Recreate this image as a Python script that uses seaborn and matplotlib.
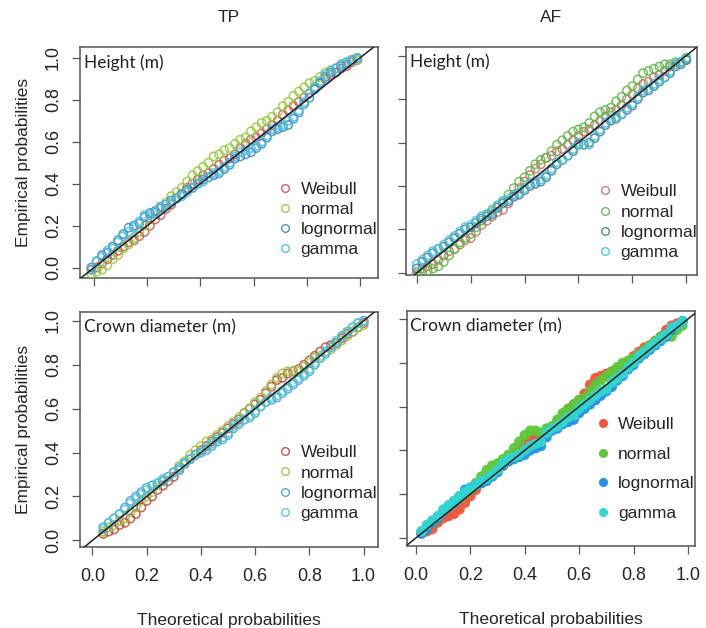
import matplotlib
matplotlib.use("Agg")
import matplotlib.pyplot as plt
from matplotlib.lines import Line2D
import numpy as np
import pandas as pd
import seaborn as sns

sns.set_style("ticks")
plt.rcParams['font.family'] = ['Liberation Sans', 'DejaVu Sans']

dists = ['Weibull', 'normal', 'lognormal', 'gamma']

# TP - Height (m): theoretical probabilities (x) and empirical probabilities for each fit
tp_height_x = [-0.01, 0.01, 0.03, 0.05, 0.07, 0.09, 0.11, 0.13, 0.15, 0.17, 0.19, 0.21, 0.23,
               0.25, 0.27, 0.29, 0.31, 0.33, 0.35, 0.37, 0.39, 0.41, 0.43, 0.45, 0.47, 0.49,
               0.51, 0.53, 0.55, 0.57, 0.59, 0.61, 0.63, 0.65, 0.67, 0.69, 0.71, 0.73, 0.75,
               0.77, 0.79, 0.81, 0.83, 0.85, 0.87, 0.89, 0.91, 0.93, 0.95, 0.97, 0.99]
tp_height_weibull = [-0.01, 0.00, 0.02, 0.04, 0.06, 0.08, 0.10, 0.12, 0.13, 0.15, 0.17, 0.20, 0.23,
                     0.25, 0.28, 0.30, 0.33, 0.35, 0.38, 0.40, 0.42, 0.44, 0.45, 0.47, 0.49, 0.51,
                     0.52, 0.54, 0.57, 0.59, 0.61, 0.62, 0.64, 0.66, 0.68, 0.70, 0.73, 0.75, 0.77,
                     0.79, 0.81, 0.83, 0.86, 0.88, 0.90, 0.92, 0.93, 0.95, 0.96, 0.98, 0.99]
tp_height_normal = [-0.03, -0.02, -0.01, 0.01, 0.04, 0.06, 0.09, 0.11, 0.14, 0.17, 0.20, 0.23, 0.26,
                    0.28, 0.31, 0.34, 0.36, 0.38, 0.41, 0.44, 0.46, 0.48, 0.50, 0.53, 0.54, 0.56,
                    0.57, 0.59, 0.61, 0.62, 0.65, 0.67, 0.69, 0.70, 0.72, 0.74, 0.77, 0.79, 0.82,
                    0.84, 0.86, 0.88, 0.89, 0.91, 0.93, 0.94, 0.95, 0.97, 0.98, 0.99, 0.99]
tp_height_lognormal = [0.00, 0.03, 0.06, 0.07, 0.10, 0.13, 0.16, 0.19, 0.20, 0.21, 0.24, 0.26, 0.27,
                       0.29, 0.30, 0.32, 0.33, 0.35, 0.37, 0.38, 0.40, 0.42, 0.43, 0.44, 0.45, 0.47,
                       0.49, 0.52, 0.53, 0.54, 0.55, 0.57, 0.59, 0.62, 0.65, 0.66, 0.67, 0.68, 0.71,
                       0.74, 0.78, 0.81, 0.85, 0.88, 0.91, 0.93, 0.95, 0.96, 0.97, 0.99, 1.00]
tp_height_gamma = [-0.01, 0.03, 0.05, 0.08, 0.09, 0.12, 0.15, 0.17, 0.19, 0.22, 0.25, 0.25, 0.26,
                   0.28, 0.30, 0.31, 0.33, 0.34, 0.36, 0.38, 0.40, 0.41, 0.43, 0.45, 0.46, 0.48,
                   0.50, 0.53, 0.55, 0.56, 0.57, 0.58, 0.60, 0.63, 0.66, 0.67, 0.68, 0.70, 0.72,
                   0.75, 0.79, 0.83, 0.86, 0.89, 0.92, 0.94, 0.95, 0.97, 0.98, 0.99, 1.00]

# AF - Height (m)
af_height_x = [0.00, 0.02, 0.04, 0.06, 0.08, 0.10, 0.12, 0.14, 0.16, 0.18, 0.20, 0.22, 0.24,
               0.26, 0.28, 0.30, 0.32, 0.34, 0.36, 0.38, 0.40, 0.42, 0.44, 0.46, 0.48, 0.50,
               0.52, 0.54, 0.56, 0.58, 0.60, 0.62, 0.64, 0.66, 0.68, 0.70, 0.72, 0.74, 0.76,
               0.78, 0.80, 0.82, 0.84, 0.86, 0.88, 0.90, 0.92, 0.94, 0.96, 0.98, 1.00]
af_height_weibull = [0.00, 0.02, 0.03, 0.04, 0.06, 0.08, 0.10, 0.11, 0.13, 0.15, 0.16, 0.19, 0.22,
                     0.24, 0.26, 0.28, 0.29, 0.32, 0.36, 0.39, 0.42, 0.45, 0.48, 0.50, 0.53, 0.54,
                     0.56, 0.57, 0.59, 0.61, 0.63, 0.65, 0.66, 0.68, 0.70, 0.72, 0.74, 0.75, 0.77,
                     0.80, 0.82, 0.85, 0.87, 0.88, 0.90, 0.91, 0.93, 0.95, 0.96, 0.97, 0.99]
af_height_normal = [-0.01, 0.00, 0.01, 0.02, 0.03, 0.05, 0.08, 0.11, 0.14, 0.16, 0.18, 0.21, 0.24,
                    0.27, 0.29, 0.31, 0.33, 0.36, 0.39, 0.42, 0.44, 0.47, 0.50, 0.52, 0.53, 0.56,
                    0.59, 0.61, 0.63, 0.65, 0.66, 0.67, 0.69, 0.72, 0.74, 0.75, 0.76, 0.79, 0.81,
                    0.84, 0.86, 0.89, 0.92, 0.93, 0.94, 0.95, 0.96, 0.96, 0.97, 0.97, 0.98]
af_height_lognormal = [0.02, 0.05, 0.07, 0.09, 0.11, 0.12, 0.14, 0.16, 0.18, 0.20, 0.21, 0.23, 0.25,
                       0.26, 0.27, 0.30, 0.32, 0.33, 0.35, 0.36, 0.38, 0.40, 0.41, 0.42, 0.44, 0.47,
                       0.50, 0.52, 0.54, 0.56, 0.59, 0.59, 0.60, 0.62, 0.65, 0.68, 0.70, 0.71, 0.73,
                       0.75, 0.77, 0.80, 0.83, 0.84, 0.86, 0.88, 0.90, 0.92, 0.95, 0.96, 0.98]
af_height_gamma = [0.04, 0.06, 0.08, 0.10, 0.11, 0.13, 0.15, 0.17, 0.19, 0.21, 0.22, 0.24, 0.26,
                   0.27, 0.28, 0.31, 0.33, 0.34, 0.36, 0.37, 0.39, 0.41, 0.42, 0.43, 0.45, 0.48,
                   0.51, 0.52, 0.54, 0.57, 0.60, 0.59, 0.59, 0.63, 0.66, 0.69, 0.71, 0.72, 0.73,
                   0.76, 0.78, 0.81, 0.84, 0.85, 0.87, 0.89, 0.90, 0.93, 0.96, 0.97, 0.99]

# TP - Crown diameter (m)
tp_crown_x = [0.04, 0.06, 0.08, 0.10, 0.12, 0.14, 0.16, 0.18, 0.20, 0.22, 0.24, 0.26, 0.28,
              0.30, 0.32, 0.34, 0.36, 0.38, 0.40, 0.42, 0.44, 0.46, 0.48, 0.50, 0.52, 0.54,
              0.56, 0.58, 0.60, 0.62, 0.64, 0.66, 0.68, 0.70, 0.72, 0.74, 0.76, 0.78, 0.80,
              0.82, 0.84, 0.86, 0.88, 0.90, 0.92, 0.94, 0.96, 0.98, 1.00]
tp_crown_weibull = [0.03, 0.04, 0.05, 0.07, 0.08, 0.10, 0.12, 0.15, 0.18, 0.20, 0.23, 0.25, 0.27,
                    0.29, 0.32, 0.35, 0.37, 0.39, 0.41, 0.43, 0.45, 0.47, 0.49, 0.51, 0.53, 0.55,
                    0.58, 0.60, 0.62, 0.64, 0.67, 0.70, 0.73, 0.74, 0.76, 0.77, 0.78, 0.80, 0.82,
                    0.84, 0.86, 0.88, 0.89, 0.90, 0.92, 0.94, 0.95, 0.97, 0.99]
tp_crown_normal = [0.04, 0.06, 0.07, 0.09, 0.10, 0.13, 0.15, 0.18, 0.20, 0.22, 0.25, 0.27, 0.29,
                   0.31, 0.34, 0.36, 0.39, 0.41, 0.43, 0.45, 0.46, 0.48, 0.50, 0.52, 0.54, 0.56,
                   0.58, 0.60, 0.63, 0.65, 0.68, 0.71, 0.74, 0.76, 0.77, 0.77, 0.77, 0.79, 0.81,
                   0.83, 0.84, 0.86, 0.87, 0.89, 0.91, 0.93, 0.95, 0.97, 0.98]
tp_crown_lognormal = [0.06, 0.08, 0.10, 0.12, 0.15, 0.18, 0.20, 0.22, 0.24, 0.25, 0.26, 0.27, 0.29,
                      0.31, 0.33, 0.35, 0.37, 0.39, 0.40, 0.41, 0.43, 0.45, 0.46, 0.48, 0.51, 0.53,
                      0.55, 0.56, 0.58, 0.61, 0.63, 0.64, 0.65, 0.67, 0.69, 0.71, 0.73, 0.75, 0.77,
                      0.80, 0.83, 0.85, 0.88, 0.90, 0.93, 0.95, 0.97, 0.99, 1.00]
tp_crown_gamma = [0.05, 0.08, 0.10, 0.12, 0.14, 0.17, 0.19, 0.21, 0.23, 0.25, 0.26, 0.28, 0.29,
                  0.31, 0.32, 0.35, 0.37, 0.39, 0.40, 0.42, 0.44, 0.46, 0.47, 0.49, 0.52, 0.54,
                  0.55, 0.57, 0.59, 0.61, 0.63, 0.65, 0.66, 0.68, 0.70, 0.72, 0.74, 0.76, 0.78,
                  0.81, 0.83, 0.86, 0.88, 0.91, 0.93, 0.95, 0.97, 0.99, 1.00]

# AF - Crown diameter (m)
af_crown_x = [0.02, 0.04, 0.06, 0.08, 0.10, 0.12, 0.14, 0.16, 0.18, 0.20, 0.22, 0.24, 0.26,
              0.28, 0.30, 0.32, 0.34, 0.36, 0.38, 0.40, 0.42, 0.44, 0.46, 0.48, 0.50, 0.52,
              0.54, 0.56, 0.58, 0.60, 0.62, 0.64, 0.66, 0.68, 0.70, 0.72, 0.74, 0.76, 0.78,
              0.80, 0.82, 0.84, 0.86, 0.88, 0.90, 0.92, 0.94, 0.96, 0.98]
af_crown_weibull = [0.02, 0.03, 0.04, 0.07, 0.09, 0.10, 0.11, 0.13, 0.16, 0.19, 0.22, 0.25, 0.27,
                    0.29, 0.31, 0.33, 0.35, 0.38, 0.40, 0.43, 0.45, 0.46, 0.46, 0.48, 0.50, 0.53,
                    0.56, 0.59, 0.61, 0.63, 0.66, 0.70, 0.73, 0.74, 0.75, 0.76, 0.77, 0.79, 0.80,
                    0.83, 0.85, 0.87, 0.88, 0.90, 0.92, 0.95, 0.97, 0.98, 0.99]
af_crown_normal = [0.03, 0.05, 0.07, 0.09, 0.12, 0.14, 0.16, 0.18, 0.20, 0.22, 0.25, 0.28, 0.31,
                   0.33, 0.34, 0.36, 0.38, 0.41, 0.44, 0.47, 0.49, 0.49, 0.48, 0.50, 0.51, 0.54,
                   0.57, 0.59, 0.61, 0.63, 0.64, 0.67, 0.70, 0.72, 0.74, 0.76, 0.78, 0.80, 0.81,
                   0.82, 0.84, 0.86, 0.88, 0.90, 0.92, 0.92, 0.92, 0.95, 0.97]
af_crown_lognormal = [0.02, 0.04, 0.07, 0.09, 0.12, 0.14, 0.16, 0.19, 0.22, 0.23, 0.24, 0.25, 0.26,
                      0.28, 0.30, 0.33, 0.35, 0.36, 0.37, 0.38, 0.40, 0.41, 0.42, 0.46, 0.49, 0.50,
                      0.52, 0.53, 0.54, 0.57, 0.59, 0.61, 0.63, 0.65, 0.67, 0.69, 0.72, 0.74, 0.77,
                      0.79, 0.82, 0.84, 0.86, 0.88, 0.90, 0.92, 0.95, 0.97, 0.99]
af_crown_gamma = [0.03, 0.06, 0.08, 0.10, 0.13, 0.15, 0.17, 0.19, 0.21, 0.23, 0.24, 0.26, 0.27,
                  0.29, 0.31, 0.34, 0.36, 0.37, 0.38, 0.40, 0.42, 0.43, 0.44, 0.48, 0.50, 0.51,
                  0.53, 0.55, 0.56, 0.59, 0.61, 0.63, 0.65, 0.67, 0.68, 0.71, 0.73, 0.75, 0.78,
                  0.80, 0.83, 0.85, 0.87, 0.89, 0.91, 0.93, 0.96, 0.97, 0.99]

ticks = [0.0, 0.2, 0.4, 0.6, 0.8, 1.0]
tick_labels = ['0.0', '0.2', '0.4', '0.6', '0.8', '1.0']

panels = [
    dict(title='TP', label='Height (m)', x=tp_height_x,
         ys=[tp_height_weibull, tp_height_normal, tp_height_lognormal, tp_height_gamma],
         colors=['#d0524e', '#93c83c', '#3a86c4', '#45bfe0'], filled=False,
         rect=[0.1133, 0.5573, 0.4221, 0.3678], xlim=(-0.053, 1.068), ylim=(-0.05, 1.052),
         leg=(0.665, 0.416), spacing=0.28),
    dict(title='AF', label='Height (m)', x=af_height_x,
         ys=[af_height_weibull, af_height_normal, af_height_lognormal, af_height_gamma],
         colors=['#c87262', '#5fb84a', '#4a7a94', '#42c2da'], filled=False,
         rect=[0.5751, 0.5621, 0.4122, 0.3631], xlim=(-0.04, 1.04), ylim=(-0.01, 1.04),
         leg=(0.66, 0.398), spacing=0.3),
    dict(title=None, label='Crown diameter (m)', x=tp_crown_x,
         ys=[tp_crown_weibull, tp_crown_normal, tp_crown_lognormal, tp_crown_gamma],
         colors=['#c4443c', '#9cc042', '#3fa8d2', '#52c2d4'], filled=False,
         rect=[0.1133, 0.1290, 0.4221, 0.3742], xlim=(-0.046, 1.053), ylim=(-0.03, 1.04),
         leg=(0.665, 0.434), spacing=0.3),
    dict(title=None, label='Crown diameter (m)', x=af_crown_x,
         ys=[af_crown_weibull, af_crown_normal, af_crown_lognormal, af_crown_gamma],
         colors=['#f0553a', '#5cc83a', '#2190e6', '#32d6cf'], filled=True,
         rect=[0.5765, 0.1306, 0.4079, 0.3742], xlim=(-0.033, 1.026), ylim=(-0.037, 1.037),
         leg=(0.655, 0.55), spacing=0.84),
]

fig = plt.figure(figsize=(7.06, 6.28), dpi=100)

for i, p in enumerate(panels):
    ax = fig.add_axes(p['rect'])
    df = pd.DataFrame({'theo': np.repeat([p['x']], 4, axis=0).ravel(),
                       'emp': np.concatenate(p['ys']),
                       'dist': np.repeat(dists, len(p['x']))})

    # y = x reference line
    ax.plot(p['xlim'], p['xlim'], color='#222222', lw=1.1, zorder=5)

    for name, col in zip(dists, p['colors']):
        sub = df[df['dist'] == name]
        if p['filled']:
            sns.scatterplot(data=sub, x='theo', y='emp', ax=ax, color=col, s=56,
                            edgecolor='none', alpha=0.95, zorder=3)
        else:
            sns.scatterplot(data=sub, x='theo', y='emp', ax=ax, s=36, facecolor='none',
                            edgecolor=col, linewidth=1.1, alpha=0.85, zorder=3)

    ax.set_xlim(p['xlim'])
    ax.set_ylim(p['ylim'])
    ax.set_xticks(ticks)
    ax.set_yticks(ticks)
    ax.set_xlabel('')
    ax.set_ylabel('')
    ax.tick_params(direction='out', length=6, width=0.9, color='#555555', labelsize=13)
    ax.tick_params(axis='x', pad=9)
    ax.tick_params(axis='y', pad=7)
    if i >= 2:
        ax.set_xticklabels(tick_labels)
        ax.set_xlabel('Theoretical probabilities', fontsize=12.5, labelpad=20)
    else:
        ax.set_xticklabels([])
    if i % 2 == 0:
        ax.set_yticklabels(tick_labels, rotation=90, va='center')
        ax.set_ylabel('Empirical probabilities', fontsize=12.5, labelpad=10)
    else:
        ax.set_yticklabels([])
    for sp in ax.spines.values():
        sp.set_visible(True)
        sp.set_color('#555555')
        sp.set_linewidth(1.1)

    if p['title']:
        ax.set_title(p['title'], fontsize=12.5, pad=18)
    ax.text(0.012, 0.97, p['label'], transform=ax.transAxes, ha='left', va='top',
            fontsize=12.5, family=['Lato', 'DejaVu Sans'], color='#222222')

    if p['filled']:
        handles = [Line2D([], [], ls='none', marker='o', ms=6.5, mfc=c, mec='none')
                   for c in p['colors']]
    else:
        handles = [Line2D([], [], ls='none', marker='o', ms=5.5, mfc='none', mec=c, mew=0.9)
                   for c in p['colors']]
    ax.legend(handles, dists, loc='upper left', bbox_to_anchor=p['leg'], frameon=False,
              fontsize=12.5, handlelength=0.8, handletextpad=0.5, borderpad=0,
              borderaxespad=0, labelspacing=p['spacing'])

fig.savefig('out.png', dpi=100)
